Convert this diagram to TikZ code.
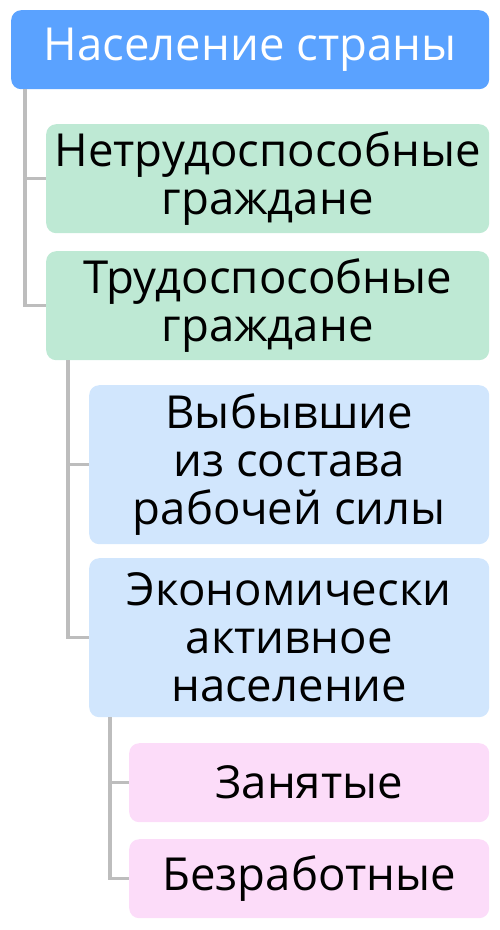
\documentclass[tikz,border=0pt]{standalone}
\usepackage{fontspec}
\setmainfont{Open Sans}
\definecolor{rootblue}{HTML}{5AA2FF}
\definecolor{boxgreen}{HTML}{BEE9D4}
\definecolor{boxblue}{HTML}{D1E6FD}
\definecolor{boxpink}{HTML}{FCDCF9}
\definecolor{linegray}{HTML}{BDBDBD}
\tikzset{
  box/.style={rectangle, rounded corners=10pt, inner sep=0pt, align=center,
    anchor=north west, font=\fontsize{45.5}{48}\selectfont, text=black},
  rootbox/.style={box, fill=rootblue, text=white},
  greenbox/.style={box, fill=boxgreen},
  bluebox/.style={box, fill=boxblue},
  pinkbox/.style={box, fill=boxpink},
  link/.style={draw=linegray, line width=3.5pt}
}
\begin{document}
\begin{tikzpicture}[x=1pt,y=-1pt]
\useasboundingbox (0,0) rectangle (500,930);
\node[rootbox, minimum width=478pt, minimum height=79pt] (root) at (11,10) {Население страны};
\node[greenbox, minimum width=443pt, minimum height=109pt] (n1) at (46,124) {Нетрудоспособные\\граждане};
\node[greenbox, minimum width=443pt, minimum height=109pt] (n2) at (46,251) {Трудоспособные\\граждане};
\node[bluebox, minimum width=400pt, minimum height=159pt] (n3) at (89,385) {Выбывшие\\из состава\\рабочей силы};
\node[bluebox, minimum width=400pt, minimum height=159pt] (n4) at (89,558) {Экономически\\активное\\население};
\node[pinkbox, minimum width=360pt, minimum height=79pt] (n5) at (129,743) {Занятые};
\node[pinkbox, minimum width=360pt, minimum height=79pt] (n6) at (129,839) {Безработные};
\coordinate (t0) at (25,89);
\coordinate (t1) at (68,360);
\coordinate (t2) at (110,717);
\draw[link] (t0) |- (n1.west);
\draw[link] (t0) |- (n2.west);
\draw[link] (t1) |- (n3.west);
\draw[link] (t1) |- (n4.west);
\draw[link] (t2) |- (n5.west);
\draw[link] (t2) |- (n6.west);
\end{tikzpicture}
\end{document}
